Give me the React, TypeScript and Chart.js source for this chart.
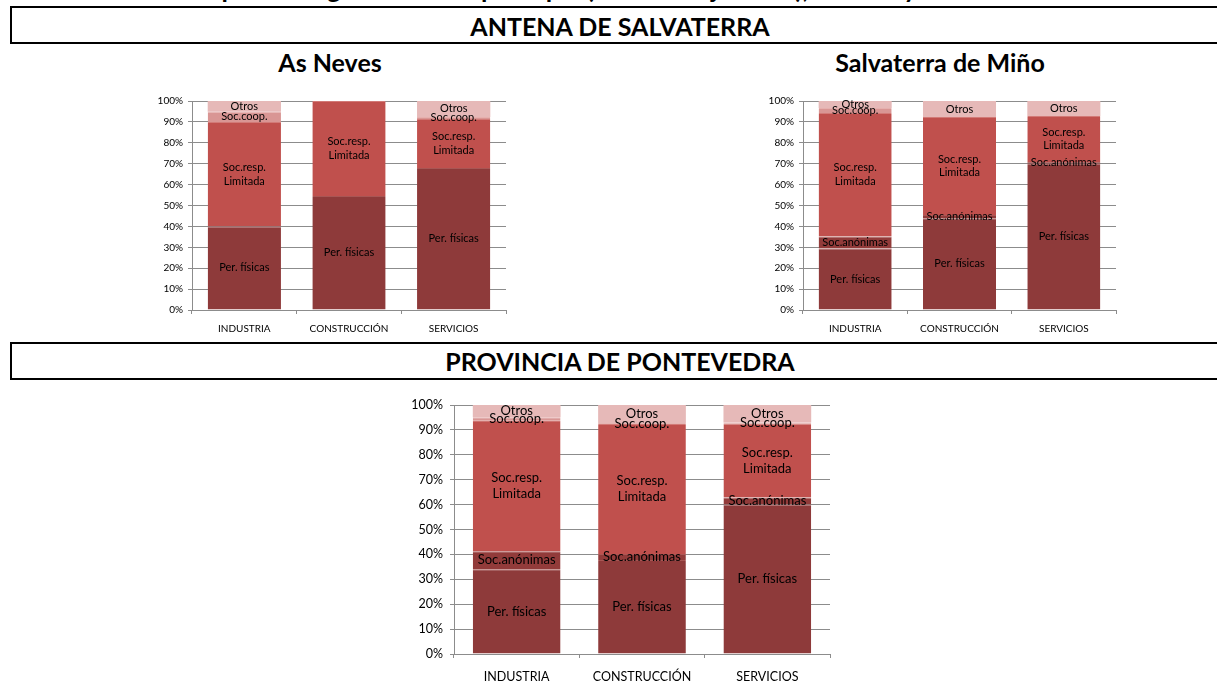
import React, { useEffect, useRef } from "react";
import { Chart, registerables } from "chart.js";

Chart.register(...registerables);

// ---------- DATA ----------
const categories = ["INDUSTRIA", "CONSTRUCCIÓN", "SERVICIOS"];
const seriesNames = ["Per. físicas", "Soc.anónimas", "Soc.resp. Limitada", "Soc.coop.", "Otros"];
const seriesLabelLines = [["Per. físicas"], ["Soc.anónimas"], ["Soc.resp.", "Limitada"], ["Soc.coop."], ["Otros"]];
const seriesColors = ["#8E3A3A", "#923B3A", "#C0504D", "#D99694", "#E6B9B8"];
const seriesEdgeColors = ["#A85654", "#AC5856", "#D27A77", "#E6B0AE", "#E6B9B8"];
const yTickValues = [0, 10, 20, 30, 40, 50, 60, 70, 80, 90, 100];

// As Neves (% of companies)
const asNevesPerFisicas = [40, 54.5, 68];
const asNevesAnonimas = [0, 0, 0];
const asNevesLimitada = [50, 45.5, 23.4];
const asNevesCoop = [4.8, 0, 1.0];
const asNevesOtros = [5.2, 0, 7.6];

// Salvaterra de Miño
const salvPerFisicas = [29.4, 43.9, 70];
const salvAnonimas = [5.8, 1.6, 0.8];
const salvLimitada = [59, 46.8, 22];
const salvCoop = [2.4, 0, 0];
const salvOtros = [3.4, 7.7, 7.2];

// Provincia de Pontevedra
const pontPerFisicas = [34, 37.8, 60];
const pontAnonimas = [7.3, 2.4, 2.9];
const pontLimitada = [52.6, 52.2, 29.6];
const pontCoop = [1.2, 0.4, 0.5];
const pontOtros = [4.9, 7.2, 7.0];

const mainTitle = "Empresas según el sector principal (condición jurídica), Antena y Provincia";
const box1Title = "ANTENA DE SALVATERRA";
const box2Title = "PROVINCIA DE PONTEVEDRA";
const sub1Title = "As Neves";
const sub2Title = "Salvaterra de Miño";

const FONT = "Lato, 'Open Sans', sans-serif";
const GRID = "#8c8c8c";

const labelPlugin = {
  id: "segLabels",
  afterDatasetsDraw(chart: any, _args: any, opts: any) {
    const ctx = chart.ctx;
    const size = opts.size || 11;
    ctx.save();
    ctx.font = `${size}px ${FONT}`;
    ctx.fillStyle = "#000";
    ctx.textAlign = "center";
    ctx.textBaseline = "middle";
    chart.data.datasets.forEach((ds: any, di: number) => {
      const meta = chart.getDatasetMeta(di);
      meta.data.forEach((el: any, i: number) => {
        const v = ds.data[i];
        if (!v || v <= 0) return;
        const cy = (el.y + el.base) / 2;
        const lines = seriesLabelLines[di];
        const lh = size * 1.25;
        lines.forEach((t: string, li: number) => {
          ctx.fillText(t, el.x, cy + (li - (lines.length - 1) / 2) * lh);
        });
      });
    });
    ctx.restore();
  },
};

type ChartProps = {
  left: number;
  top: number;
  width: number;
  height: number;
  yAxisWidth: number;
  padTop: number;
  fontSize: number;
  labelSize: number;
  xPad: number;
  yPad: number;
  series: number[][];
};

function StackedChart(p: ChartProps) {
  const ref = useRef<HTMLCanvasElement>(null);
  useEffect(() => {
    if (!ref.current) return;
    const chart = new Chart(ref.current, {
      type: "bar",
      data: {
        labels: categories,
        datasets: p.series.map((vals, i) => ({
          label: seriesNames[i],
          data: vals,
          backgroundColor: seriesColors[i],
          borderColor: seriesEdgeColors[i],
          borderWidth: i === p.series.length - 1 ? 0 : { top: 1, left: 0, right: 0, bottom: 0 },
          borderSkipped: false,
          categoryPercentage: 1,
          barPercentage: 0.7,
        })),
      },
      options: {
        responsive: false,
        animation: false,
        maintainAspectRatio: false,
        layout: { padding: { top: p.padTop, right: 1, bottom: 0, left: 0 } },
        plugins: {
          legend: { display: false },
          tooltip: { enabled: false },
          title: { display: false },
          segLabels: { size: p.labelSize },
        } as any,
        scales: {
          x: {
            stacked: true,
            grid: { display: true, drawOnChartArea: false, drawTicks: true, tickLength: 4, color: GRID, offset: true },
            border: { display: true, color: GRID },
            ticks: { color: "#000", font: { family: FONT, size: p.fontSize }, padding: p.xPad, maxRotation: 0 },
            afterFit: (s: any) => {
              s.height = 30;
            },
          },
          y: {
            stacked: true,
            min: 0,
            max: 100,
            afterBuildTicks: (s: any) => {
              s.ticks = yTickValues.map((v) => ({ value: v }));
            },
            ticks: {
              color: "#000",
              font: { family: FONT, size: p.fontSize },
              padding: p.yPad,
              callback: (v: any) => v + "%",
            },
            grid: { color: GRID, tickLength: 4, drawTicks: true },
            border: { display: true, color: GRID },
            afterFit: (s: any) => {
              s.width = p.yAxisWidth;
            },
          },
        },
      },
      plugins: [labelPlugin as any],
    });
    return () => chart.destroy();
  }, []);
  return (
    <canvas
      ref={ref}
      width={p.width}
      height={p.height}
      style={{ position: "absolute", left: p.left, top: p.top, width: p.width, height: p.height }}
    />
  );
}

const boldText = (text: string, cx: number, top: number, size: number) => (
  <div
    style={{
      position: "absolute",
      left: cx - 400,
      width: 800,
      top,
      textAlign: "center",
      fontFamily: FONT,
      fontWeight: 700,
      fontSize: size,
      lineHeight: `${size}px`,
      color: "#000",
      whiteSpace: "nowrap",
    }}
  >
    {text}
  </div>
);

export default function App() {
  return (
    <div
      style={{
        position: "absolute",
        left: 0,
        top: 0,
        width: 1217,
        height: 684,
        overflow: "hidden",
        background: "#fff",
      }}
    >
      {boldText(mainTitle, 585, -25, 26)}
      <div
        style={{
          position: "absolute",
          left: 10,
          top: 6,
          width: 1240,
          height: 38,
          border: "2px solid #000",
          boxSizing: "border-box",
        }}
      />
      {boldText(box1Title, 620, 14, 25)}
      {boldText(sub1Title, 330, 50, 25)}
      {boldText(sub2Title, 940, 50, 25)}
      <StackedChart
        left={130}
        top={90}
        width={377}
        height={250}
        yAxisWidth={62}
        padTop={11}
        fontSize={10}
        labelSize={11}
        xPad={9}
        yPad={5}
        series={[asNevesPerFisicas, asNevesAnonimas, asNevesLimitada, asNevesCoop, asNevesOtros]}
      />
      <StackedChart
        left={741}
        top={90}
        width={376}
        height={250}
        yAxisWidth={62}
        padTop={11}
        fontSize={10}
        labelSize={11}
        xPad={9}
        yPad={5}
        series={[salvPerFisicas, salvAnonimas, salvLimitada, salvCoop, salvOtros]}
      />
      <div
        style={{
          position: "absolute",
          left: 10,
          top: 342,
          width: 1240,
          height: 38,
          border: "2px solid #000",
          boxSizing: "border-box",
        }}
      />
      {boldText(box2Title, 620, 349, 25)}
      <StackedChart
        left={380}
        top={390}
        width={451}
        height={294}
        yAxisWidth={74}
        padTop={15}
        fontSize={12.5}
        labelSize={13}
        xPad={11}
        yPad={7}
        series={[pontPerFisicas, pontAnonimas, pontLimitada, pontCoop, pontOtros]}
      />
    </div>
  );
}
